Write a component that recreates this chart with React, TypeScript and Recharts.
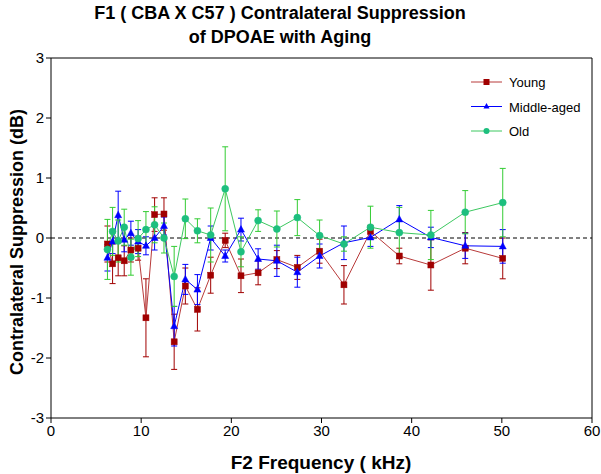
import React from 'react';
import { LineChart, Line, XAxis, YAxis, ErrorBar, ReferenceLine, Legend } from 'recharts';

// F2 frequencies (kHz)
const freqs = [6.26, 6.83, 7.45, 8.12, 8.86, 9.66, 10.53, 11.49, 12.53, 13.66, 14.9, 16.24, 17.71, 19.32, 21.07, 22.97, 25.05, 27.32, 29.79, 32.49, 35.43, 38.63, 42.13, 45.94, 50.1];

const young = [-0.1, -0.43, -0.33, -0.38, -0.2, -0.17, -1.33, 0.39, 0.4, -1.73, -0.8, -1.19, -0.62, -0.04, -0.63, -0.58, -0.36, -0.49, -0.22, -0.78, 0.11, -0.3, -0.45, -0.17, -0.34];
const youngErr = [0.3, 0.33, 0.3, 0.25, 0.2, 0.2, 0.65, 0.28, 0.27, 0.46, 0.3, 0.36, 0.3, 0.12, 0.28, 0.2, 0.15, 0.2, 0.2, 0.32, 0.1, 0.13, 0.42, 0.26, 0.34];

const middle = [-0.33, -0.06, 0.38, -0.03, 0.08, -0.06, -0.13, 0.0, 0.2, -1.47, -0.69, -0.86, 0.0, -0.3, 0.14, -0.35, -0.38, -0.57, -0.3, -0.08, 0.01, 0.31, 0.01, -0.13, -0.14];
const middleErr = [0.22, 0.2, 0.4, 0.2, 0.2, 0.2, 0.15, 0.2, 0.15, 0.33, 0.25, 0.25, 0.2, 0.1, 0.19, 0.17, 0.26, 0.25, 0.2, 0.28, 0.15, 0.23, 0.17, 0.21, 0.28];

const old = [-0.19, 0.11, -0.05, 0.18, -0.32, -0.01, 0.14, 0.22, 0.0, -0.64, 0.32, 0.12, 0.05, 0.82, -0.23, 0.29, 0.15, 0.34, 0.04, -0.1, 0.18, 0.09, 0.05, 0.43, 0.59];
const oldErr = [0.5, 0.4, 0.35, 0.3, 0.3, 0.3, 0.3, 0.3, 0.25, 0.5, 0.33, 0.2, 0.45, 0.7, 0.25, 0.18, 0.3, 0.3, 0.26, 0.12, 0.35, 0.42, 0.41, 0.36, 0.57];

const xTicks = [0, 10, 20, 30, 40, 50, 60];
const yTicks = [-3, -2, -1, 0, 1, 2, 3];

const seriesNames = { young: 'Young', middle: 'Middle-aged', old: 'Old' };

const data = freqs.map((f, i) => ({
  f,
  young: young[i],
  youngErr: youngErr[i],
  middle: middle[i],
  middleErr: middleErr[i],
  old: old[i],
  oldErr: oldErr[i],
}));

const RED = '#A00000';
const RED_LINE = '#B83A3A';
const BLUE = '#0000FF';
const GREEN_LINE = '#3CC860';
const GREEN_DOT = '#1DBF7E';
const FONT = '"Liberation Sans", Arial, sans-serif';

const Square = (p: any) => {
  const { cx, cy, index } = p;
  if (cx == null || cy == null) return <g key={index} />;
  return <rect key={index} x={cx - 3} y={cy - 3} width={6} height={6} fill={RED} stroke={RED} strokeWidth={0.5} />;
};
const Tri = (p: any) => {
  const { cx, cy, index } = p;
  if (cx == null || cy == null) return <g key={index} />;
  return <polygon key={index} points={`${cx},${cy - 4} ${cx - 3.5},${cy + 2.5} ${cx + 3.5},${cy + 2.5}`} fill={BLUE} stroke={BLUE} strokeWidth={0.5} />;
};
const Circ = (p: any) => {
  const { cx, cy, index } = p;
  if (cx == null || cy == null) return <g key={index} />;
  return <circle key={index} cx={cx} cy={cy} r={3.5} fill={GREEN_DOT} stroke={GREEN_DOT} strokeWidth={0.5} />;
};

const legendRows = [
  { key: 'young', line: RED_LINE, marker: 'sq' },
  { key: 'middle', line: BLUE, marker: 'tri' },
  { key: 'old', line: GREEN_LINE, marker: 'circ' },
];

const LegendContent = () => (
  <svg width={140} height={70} style={{ display: 'block' }}>
    {legendRows.map((r, i) => {
      const y = 10 + i * 24.5;
      return (
        <g key={r.key}>
          <line x1={2} y1={y} x2={33} y2={y} stroke={r.line} strokeWidth={1} />
          {r.marker === 'sq' && <rect x={14.5} y={y - 3} width={6} height={6} fill={RED} />}
          {r.marker === 'tri' && <polygon points={`17.5,${y - 3.5} 14.5,${y + 2} 20.5,${y + 2}`} fill={BLUE} />}
          {r.marker === 'circ' && <circle cx={17.5} cy={y} r={3} fill={GREEN_DOT} />}
          <text x={40} y={y + 5} fontSize={13} fontFamily={FONT} fill="#000">{(seriesNames as any)[r.key]}</text>
        </g>
      );
    })}
  </svg>
);

export default function App() {
  return (
    <div style={{ position: 'absolute', left: 0, top: 0, width: 601, height: 474, background: '#fff' }}>
      <LineChart width={601} height={474} data={data} margin={{ top: 58, right: 9, bottom: 0, left: 0 }}>
        <XAxis
          dataKey="f"
          type="number"
          domain={[0, 60]}
          ticks={xTicks}
          tickSize={5}
          height={56}
          stroke="#000"
          tick={{ fill: '#000', fontSize: 15, fontFamily: FONT }}
          allowDataOverflow
        />
        <YAxis
          type="number"
          domain={[-3, 3]}
          ticks={yTicks}
          tickSize={5}
          width={51}
          stroke="#000"
          tick={{ fill: '#000', fontSize: 15, fontFamily: FONT }}
        />
        <ReferenceLine y={3} stroke="#000" strokeWidth={1} ifOverflow="visible" />
        <ReferenceLine x={60} stroke="#000" strokeWidth={1} ifOverflow="visible" />
        <ReferenceLine y={0} stroke="#000" strokeDasharray="4 3" strokeWidth={1} />
        <Legend
          layout="horizontal"
          verticalAlign="middle"
          align="center"
          content={<LegendContent />}
          wrapperStyle={{ position: 'absolute', left: 469, top: 72, width: 140, height: 70 }}
        />
        <Line dataKey="young" name={seriesNames.young} stroke={RED_LINE} strokeWidth={1} dot={Square} activeDot={false} isAnimationActive={false}>
          <ErrorBar dataKey="youngErr" width={3} stroke={RED} strokeWidth={1} direction="y" />
        </Line>
        <Line dataKey="middle" name={seriesNames.middle} stroke={BLUE} strokeWidth={1} dot={Tri} activeDot={false} isAnimationActive={false}>
          <ErrorBar dataKey="middleErr" width={3} stroke={BLUE} strokeWidth={1} direction="y" />
        </Line>
        <Line dataKey="old" name={seriesNames.old} stroke={GREEN_LINE} strokeWidth={1} dot={Circ} activeDot={false} isAnimationActive={false}>
          <ErrorBar dataKey="oldErr" width={3} stroke="#33CC33" strokeWidth={1} direction="y" />
        </Line>
      </LineChart>
      <svg width={601} height={474} style={{ position: 'absolute', left: 0, top: 0, pointerEvents: 'none' }}>
        <text x={280} y={19} textAnchor="middle" fontSize={18} fontWeight="bold" fontFamily={FONT} fill="#000">F1 ( CBA X C57 ) Contralateral Suppression</text>
        <text x={280} y={43} textAnchor="middle" fontSize={18} fontWeight="bold" fontFamily={FONT} fill="#000">of DPOAE with Aging</text>
        <text x={0} y={0} transform="translate(23,242) rotate(-90)" textAnchor="middle" fontSize={18} fontWeight="bold" fontFamily={FONT} fill="#000">Contralateral Suppression  (dB)</text>
        <text x={321} y={469} textAnchor="middle" fontSize={19} fontWeight="bold" fontFamily={FONT} fill="#000">F2 Frequency ( kHz)</text>
      </svg>
    </div>
  );
}
